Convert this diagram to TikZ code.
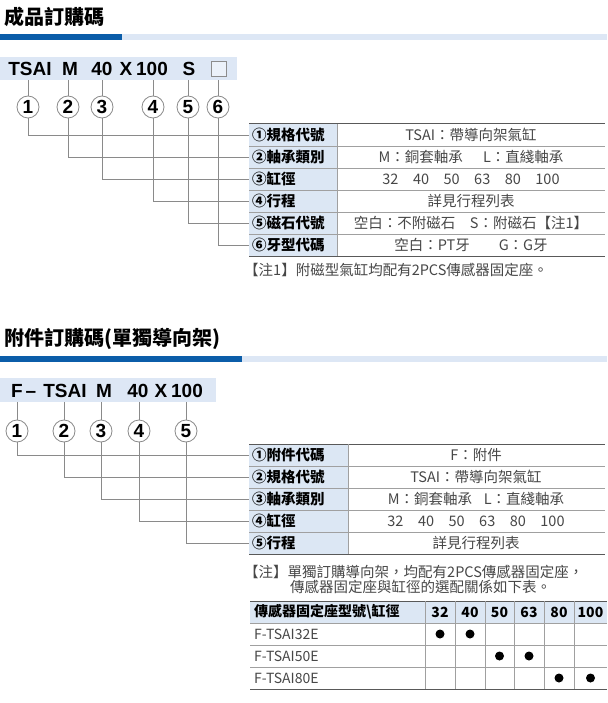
\documentclass[tikz,border=0pt]{standalone}
\usepackage{fontspec}
\setmainfont{Noto Sans CJK TC}
\newfontfamily\codefont{Liberation Sans}
\usepackage{tikz}
\usetikzlibrary{shapes,calc}
\definecolor{barblue}{HTML}{0B5DA9}
\definecolor{barlight}{HTML}{DDE7F5}
\definecolor{cellblue}{HTML}{DCE7F4}
\definecolor{linegray}{HTML}{8A8A8A}
\definecolor{rulegray}{HTML}{A0A0A0}
\definecolor{valgray}{HTML}{474747}
\tikzstyle{line} = [draw, linegray, line width=0.8pt]
\tikzstyle{rule} = [draw, rulegray, line width=0.8pt]
\tikzstyle{edge} = [draw, black!65, line width=1pt]
\tikzstyle{heading} = [anchor=west, inner sep=0pt, font=\bfseries\fontsize{20}{20}\selectfont]
\tikzstyle{key} = [inner sep=0pt, text height=13.6pt, text depth=0pt, minimum height=23pt, font=\codefont\bfseries\fontsize{19}{19}\selectfont]
\tikzstyle{blank} = [draw=black!45, fill=white!40!barlight, line width=0.8pt, minimum size=15pt, inner sep=0pt]
\tikzstyle{num} = [draw=linegray, circle, line width=0.8pt, minimum size=22pt, inner sep=0pt, font=\codefont\bfseries\fontsize{19}{19}\selectfont]
\tikzstyle{label} = [anchor=west, fill=cellblue, minimum height=22pt, inner ysep=0pt, inner xsep=3pt, align=left, font=\bfseries\fontsize{14.5}{14.5}\selectfont]
\tikzstyle{value} = [inner sep=0pt, text=valgray, font=\fontsize{14.5}{14.5}\selectfont]
\tikzstyle{note} = [anchor=west, inner sep=0pt, text=valgray, font=\fontsize{14.5}{14.5}\selectfont]
\tikzstyle{head} = [inner sep=0pt, font=\bfseries\fontsize{14}{14}\selectfont]
\tikzstyle{model} = [anchor=west, inner sep=0pt, text=valgray, font=\fontsize{14}{14}\selectfont]
\tikzstyle{dot} = [circle, fill=black, minimum size=9pt, inner sep=0pt]

\begin{document}
\begin{tikzpicture}[x=1pt, y=-1pt]
        \path[use as bounding box, fill=white] (0,0) rectangle (607,703);
        % ---- 成品訂購碼
        \node[heading] (head1) at (4,17) {成品訂購碼};
        \fill[barblue] (0,34) rectangle (122,40);
        \fill[barlight] (122,34) rectangle (607,40);
        \fill[barlight] (0,57) rectangle (237,80);
        \node[key] (k1) at (30,68.5) {TSAI};
        \node[key] (k2) at (70,68.5) {M};
        \node[key] (k3) at (102,68.5) {40};
        \node[key] (kx) at (126,68.5) {X};
        \node[key] (k4) at (152,68.5) {100};
        \node[key] (k5) at (189,68.5) {S};
        \node[blank] (k6) at (219,68.5) {};
        \node[num] (n1) at (28,107) {1};
        \node[num] (n2) at (68,107) {2};
        \node[num] (n3) at (102,107) {3};
        \node[num] (n4) at (153,107) {4};
        \node[num] (n5) at (188,107) {5};
        \node[num] (n6) at (218,107) {6};
        \path[line] (n1.north) -- (n1 |- k1.south);
        \path[line] (n2.north) -- (n2 |- k2.south);
        \path[line] (n3.north) -- (n3 |- k3.south);
        \path[line] (n4.north) -- (n4 |- k4.south);
        \path[line] (n5.north) -- (n5 |- k5.south);
        \path[line] (n6.north) -- (n6 |- 0,80);
        % table 1
        \node[label, text width=82pt] (l1) at (249,135) {①規格代號};
        \node[label, text width=82pt] (l2) at (249,157) {②軸承類別};
        \node[label, text width=82pt] (l3) at (249,179) {③缸徑};
        \node[label, text width=82pt] (l4) at (249,201) {④行程};
        \node[label, text width=82pt] (l5) at (249,223) {⑤磁石代號};
        \node[label, text width=82pt] (l6) at (249,245) {⑥牙型代碼};
        \node[value] (v1) at (471,135) {TSAI：帶導向架氣缸};
        \node[value] (v2) at (471,157) {M：銅套軸承\hspace{1.4em}L：直綫軸承};
        \node[value] (v3) at (471,179) {32\hspace{1em}40\hspace{1em}50\hspace{1em}63\hspace{1em}80\hspace{1em}100};
        \node[value] (v4) at (471,201) {詳見行程列表};
        \node[value] (v5) at (471,223) {空白：不附磁石\hspace{1em}S：附磁石【注1】};
        \node[value] (v6) at (471,245) {空白：PT牙\hspace{2em}G：G牙};
        \path[edge] (249,124) -- (605,124);
        \path[rule] (249,146) -- (605,146);
        \path[rule] (249,168) -- (605,168);
        \path[rule] (249,190) -- (605,190);
        \path[rule] (249,212) -- (605,212);
        \path[rule] (249,234) -- (605,234);
        \path[edge] (249,256) -- (605,256);
        \path[rule] (l1.north east) -- (l6.south east);
        \path[line] (n1.south) |- (l1.west);
        \path[line] (n2.south) |- (l2.west);
        \path[line] (n3.south) |- (l3.west);
        \path[line] (n4.south) |- (l4.west);
        \path[line] (n5.south) |- (l5.west);
        \path[line] (n6.south) |- (l6.west);
        \node[note] (note1) at (244,270) {【注1】附磁型氣缸均配有2PCS傳感器固定座。};
        % ---- 附件訂購碼
        \node[heading] (head2) at (4,339) {附件訂購碼(單獨導向架)};
        \fill[barblue] (0,356) rectangle (242,362);
        \fill[barlight] (242,356) rectangle (607,362);
        \fill[barlight] (0,378) rectangle (216,402);
        \node[key] (f1) at (17,390.5) {F};
        \node[key] (fd) at (31,390.5) {\textendash};
        \node[key] (f2) at (65,390.5) {TSAI};
        \node[key] (f3) at (104,390.5) {M};
        \node[key] (f4) at (138,390.5) {40};
        \node[key] (fx) at (161,390.5) {X};
        \node[key] (f5) at (187,390.5) {100};
        \node[num] (m1) at (17,431) {1};
        \node[num] (m2) at (64,431) {2};
        \node[num] (m3) at (101,431) {3};
        \node[num] (m4) at (139,431) {4};
        \node[num] (m5) at (186,431) {5};
        \path[line] (m1.north) -- (m1 |- f1.south);
        \path[line] (m2.north) -- (m2 |- f2.south);
        \path[line] (m3.north) -- (m3 |- f3.south);
        \path[line] (m4.north) -- (m4 |- f4.south);
        \path[line] (m5.north) -- (m5 |- f5.south);
        % table 2
        \node[label, text width=93pt] (p1) at (249,455) {①附件代碼};
        \node[label, text width=93pt] (p2) at (249,477) {②規格代號};
        \node[label, text width=93pt] (p3) at (249,499) {③軸承類別};
        \node[label, text width=93pt] (p4) at (249,521) {④缸徑};
        \node[label, text width=93pt] (p5) at (249,543) {⑤行程};
        \node[value] (w1) at (476,455) {F：附件};
        \node[value] (w2) at (476,477) {TSAI：帶導向架氣缸};
        \node[value] (w3) at (476,499) {M：銅套軸承\hspace{0.8em}L：直綫軸承};
        \node[value] (w4) at (476,521) {32\hspace{1em}40\hspace{1em}50\hspace{1em}63\hspace{1em}80\hspace{1em}100};
        \node[value] (w5) at (476,543) {詳見行程列表};
        \path[edge] (249,444) -- (605,444);
        \path[rule] (249,466) -- (605,466);
        \path[rule] (249,488) -- (605,488);
        \path[rule] (249,510) -- (605,510);
        \path[rule] (249,532) -- (605,532);
        \path[edge] (249,554) -- (605,554);
        \path[rule] (p1.north east) -- (p5.south east);
        \path[line] (m1.south) |- (p1.west);
        \path[line] (m2.south) |- (p2.west);
        \path[line] (m3.south) |- (p3.west);
        \path[line] (m4.south) |- (p4.west);
        \path[line] (m5.south) |- (p5.west);
        \node[note] (note2) at (244,572) {【注】單獨訂購導向架，均配有2PCS傳感器固定座，};
        \node[note] (note3) at (290,587) {傳感器固定座與缸徑的選配關係如下表。};
        % table 3
        \fill[cellblue] (250,601) rectangle (607,623);
        \node[head, anchor=west] (h0) at (254,612) {傳感器固定座型號\textbackslash 缸徑};
        \node[head] (h1) at (440,612) {32};
        \node[head] (h2) at (470,612) {40};
        \node[head] (h3) at (499.5,612) {50};
        \node[head] (h4) at (529,612) {63};
        \node[head] (h5) at (559,612) {80};
        \node[head] (h6) at (590.5,612) {100};
        \node[model] (r1) at (254,634) {F-TSAI32E};
        \node[model] (r2) at (254,656) {F-TSAI50E};
        \node[model] (r3) at (254,678) {F-TSAI80E};
        \node[dot] (d1) at (440,634) {};
        \node[dot] (d2) at (470,634) {};
        \node[dot] (d3) at (499.5,656) {};
        \node[dot] (d4) at (529,656) {};
        \node[dot] (d5) at (559,678) {};
        \node[dot] (d6) at (590.5,678) {};
        \path[edge] (250,601) -- (607,601);
        \path[rule] (250,623) -- (607,623);
        \path[rule] (250,645) -- (607,645);
        \path[rule] (250,667) -- (607,667);
        \path[edge] (250,689) -- (607,689);
        \path[rule] (425,601) -- (425,689);
        \path[rule] (455,601) -- (455,689);
        \path[rule] (485,601) -- (485,689);
        \path[rule] (514,601) -- (514,689);
        \path[rule] (544,601) -- (544,689);
        \path[rule] (574,601) -- (574,689);
\end{tikzpicture}
\end{document}
